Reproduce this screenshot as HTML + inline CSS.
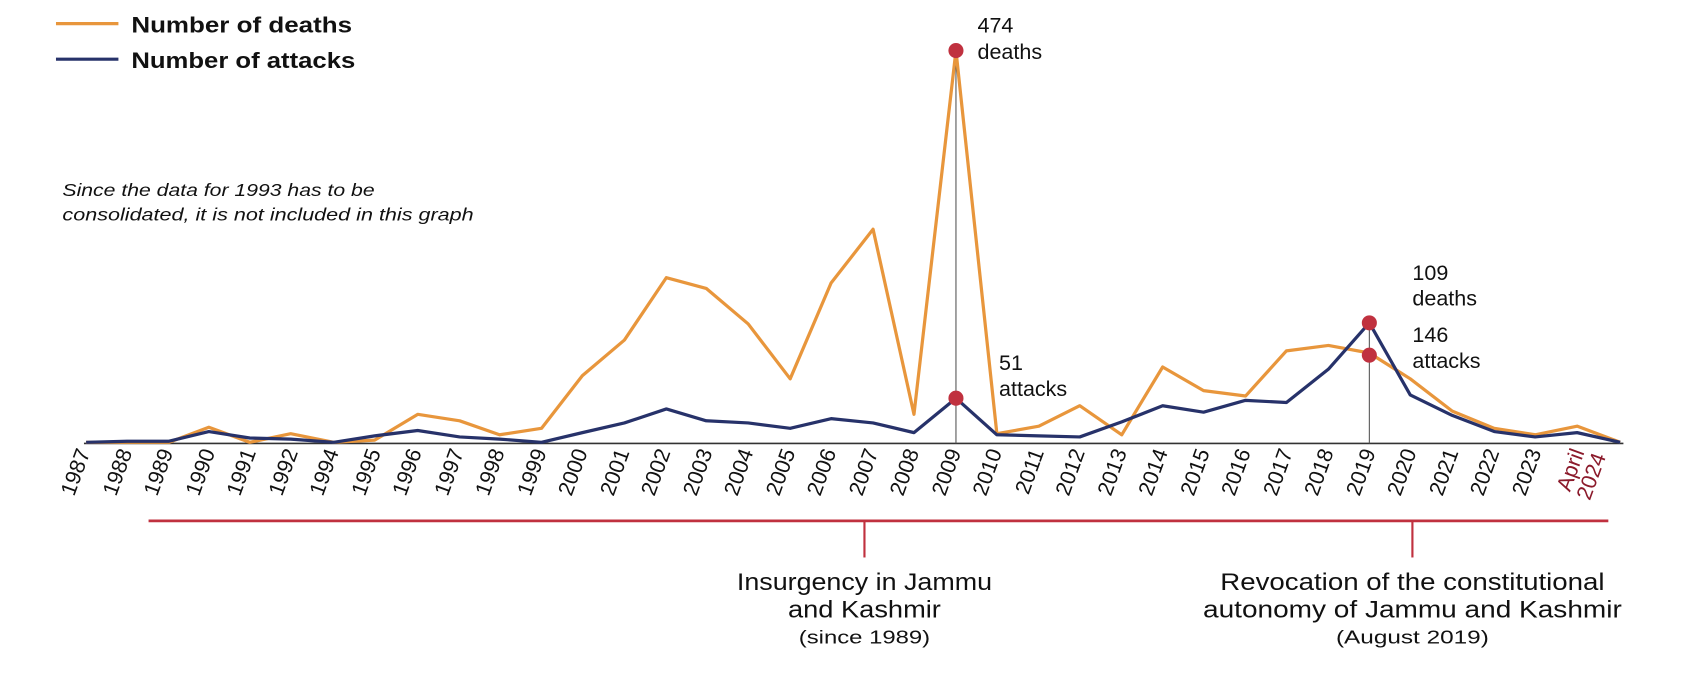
<!DOCTYPE html>
<html><head><meta charset="utf-8"><style>
html,body{margin:0;padding:0;background:#fff}
svg{display:block}
text{font-family:"Liberation Sans",sans-serif}
</style></head><body>
<svg width="1688" height="678" viewBox="0 0 1568 630" preserveAspectRatio="none" xmlns="http://www.w3.org/2000/svg">
<line x1="52" y1="22" x2="110" y2="22" stroke="#e8963c" stroke-width="3"/>
<text x="122" y="30" font-size="21" font-weight="bold" fill="#111" textLength="205" lengthAdjust="spacingAndGlyphs">Number of deaths</text>
<line x1="52" y1="55" x2="110" y2="55" stroke="#27326a" stroke-width="3"/>
<text x="122" y="63" font-size="21" font-weight="bold" fill="#111" textLength="208" lengthAdjust="spacingAndGlyphs">Number of attacks</text>
<text x="58" y="182" font-size="16" font-style="italic" fill="#111" textLength="290" lengthAdjust="spacingAndGlyphs">Since the data for 1993 has to be</text>
<text x="58" y="205" font-size="16" font-style="italic" fill="#111" textLength="382" lengthAdjust="spacingAndGlyphs">consolidated, it is not included in this graph</text>
<line x1="78" y1="412" x2="1508" y2="412" stroke="#333" stroke-width="1.5"/>
<line x1="888" y1="47" x2="888" y2="412" stroke="#555" stroke-width="1"/>
<line x1="1272" y1="300" x2="1272" y2="412" stroke="#555" stroke-width="1"/>
<polyline fill="none" stroke="#e8963c" stroke-width="3" stroke-linejoin="round" points="80,411 118,411 157,411 194,397 232,411 270,403 310,411 348,409 388,385 427,391 464,404 503,398 541,349 580,316 619,258 656,268 695,301 734,352 772,263 811,213 849,385 888,47 926,403 965,396 1003,377 1042,404 1080,341 1118,363 1157,368 1195,326 1234,321 1272,328 1310,352 1349,382 1388,398 1426,404 1465,396 1505,411"/>
<polyline fill="none" stroke="#27326a" stroke-width="3" stroke-linejoin="round" points="80,411 118,410 157,410 194,401 232,407 270,408 310,411 348,405 388,400 427,406 464,408 503,411 541,402 580,393 619,380 656,391 695,393 734,398 772,389 811,393 849,402 888,370 926,404 965,405 1003,406 1042,392 1080,377 1118,383 1157,372 1195,374 1234,343 1272,300 1310,367 1349,386 1388,401 1426,406 1465,402 1505,411"/>
<circle cx="888" cy="47" r="7" fill="#c0313f"/>
<circle cx="888" cy="370" r="7" fill="#c0313f"/>
<circle cx="1272" cy="300" r="7" fill="#c0313f"/>
<circle cx="1272" cy="330" r="7" fill="#c0313f"/>
<g font-size="20" fill="#111">
<text x="908" y="30">474</text><text x="908" y="55">deaths</text>
<text x="928" y="344">51</text><text x="928" y="368">attacks</text>
<text x="1312" y="260">109</text><text x="1312" y="284">deaths</text>
<text x="1312" y="318">146</text><text x="1312" y="342">attacks</text>
</g>
<g font-size="20" fill="#111" text-anchor="end">
<text transform="translate(84,420) rotate(-70)">1987</text>
<text transform="translate(123,420) rotate(-70)">1988</text>
<text transform="translate(161,420) rotate(-70)">1989</text>
<text transform="translate(200,420) rotate(-70)">1990</text>
<text transform="translate(238,420) rotate(-70)">1991</text>
<text transform="translate(277,420) rotate(-70)">1992</text>
<text transform="translate(315,420) rotate(-70)">1994</text>
<text transform="translate(354,420) rotate(-70)">1995</text>
<text transform="translate(392,420) rotate(-70)">1996</text>
<text transform="translate(431,420) rotate(-70)">1997</text>
<text transform="translate(469,420) rotate(-70)">1998</text>
<text transform="translate(508,420) rotate(-70)">1999</text>
<text transform="translate(546,420) rotate(-70)">2000</text>
<text transform="translate(585,420) rotate(-70)">2001</text>
<text transform="translate(623,420) rotate(-70)">2002</text>
<text transform="translate(662,420) rotate(-70)">2003</text>
<text transform="translate(700,420) rotate(-70)">2004</text>
<text transform="translate(739,420) rotate(-70)">2005</text>
<text transform="translate(777,420) rotate(-70)">2006</text>
<text transform="translate(816,420) rotate(-70)">2007</text>
<text transform="translate(854,420) rotate(-70)">2008</text>
<text transform="translate(893,420) rotate(-70)">2009</text>
<text transform="translate(931,420) rotate(-70)">2010</text>
<text transform="translate(970,420) rotate(-70)">2011</text>
<text transform="translate(1008,420) rotate(-70)">2012</text>
<text transform="translate(1047,420) rotate(-70)">2013</text>
<text transform="translate(1085,420) rotate(-70)">2014</text>
<text transform="translate(1124,420) rotate(-70)">2015</text>
<text transform="translate(1162,420) rotate(-70)">2016</text>
<text transform="translate(1201,420) rotate(-70)">2017</text>
<text transform="translate(1239,420) rotate(-70)">2018</text>
<text transform="translate(1278,420) rotate(-70)">2019</text>
<text transform="translate(1316,420) rotate(-70)">2020</text>
<text transform="translate(1355,420) rotate(-70)">2021</text>
<text transform="translate(1393,420) rotate(-70)">2022</text>
<text transform="translate(1432,420) rotate(-70)">2023</text>
<text transform="translate(1472,420) rotate(-70)" fill="#8b1a2b">April</text>
<text transform="translate(1492,424) rotate(-70)" fill="#8b1a2b">2024</text>
</g>
<line x1="138" y1="484" x2="1494" y2="484" stroke="#c0313f" stroke-width="2.5"/>
<line x1="803" y1="484" x2="803" y2="518" stroke="#c0313f" stroke-width="2"/>
<line x1="1312" y1="484" x2="1312" y2="518" stroke="#c0313f" stroke-width="2"/>
<g text-anchor="middle" fill="#111">
<text x="803" y="548" font-size="22" textLength="237" lengthAdjust="spacingAndGlyphs">Insurgency in Jammu</text>
<text x="803" y="574" font-size="22" textLength="142" lengthAdjust="spacingAndGlyphs">and Kashmir</text>
<text x="803" y="598" font-size="17" textLength="122" lengthAdjust="spacingAndGlyphs">(since 1989)</text>
<text x="1312" y="548" font-size="22" textLength="357" lengthAdjust="spacingAndGlyphs">Revocation of the constitutional</text>
<text x="1312" y="574" font-size="22" textLength="389" lengthAdjust="spacingAndGlyphs">autonomy of Jammu and Kashmir</text>
<text x="1312" y="598" font-size="17" textLength="142" lengthAdjust="spacingAndGlyphs">(August 2019)</text>
</g>
</svg>
</body></html>
